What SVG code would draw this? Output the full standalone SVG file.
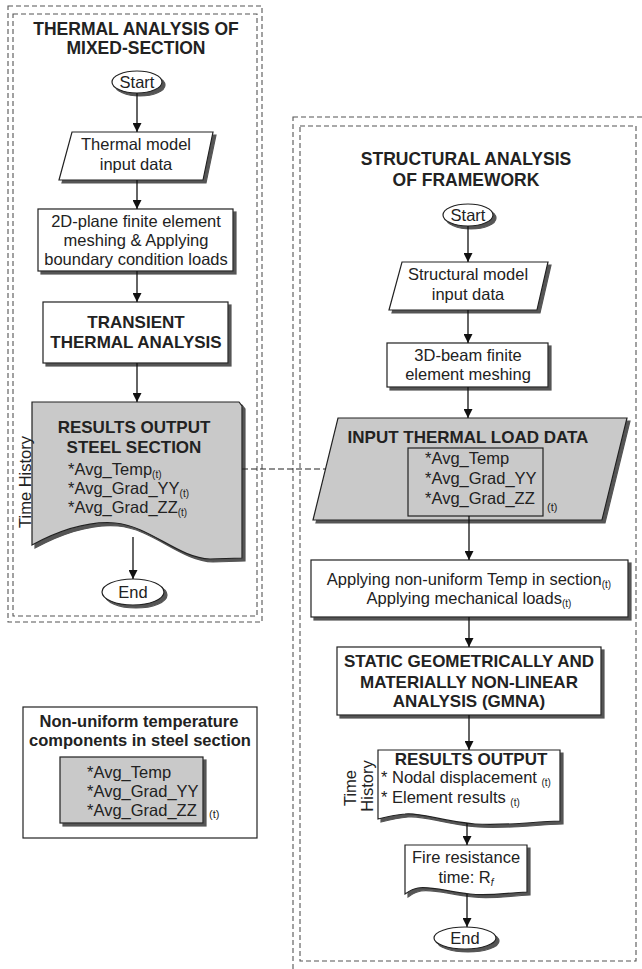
<svg xmlns="http://www.w3.org/2000/svg" width="642" height="969" viewBox="0 0 642 969">
<style>
.frame{fill:none;stroke:#555;stroke-width:1.1;stroke-dasharray:5,3}
.box{fill:#fff;stroke:#222;stroke-width:1.2}
.gbox{fill:#c9c9c9;stroke:#222;stroke-width:1.2}
.t{font-family:"Liberation Sans",Arial,sans-serif;font-size:16.5px;fill:#222}
.b{font-family:"Liberation Sans",Arial,sans-serif;font-size:17px;font-weight:bold;fill:#222}
.lb{font-family:"Liberation Sans",Arial,sans-serif;font-size:16.5px;font-weight:bold;fill:#222}
.ttl{font-family:"Liberation Sans",Arial,sans-serif;font-size:17.5px;font-weight:bold;fill:#222}
.sub{font-size:10px}
.c{stroke:#111;stroke-width:1.3;fill:none}
.d{stroke:#222;stroke-width:1.1;fill:none;stroke-dasharray:6,3}
</style>
<defs>
<marker id="ah" viewBox="0 0 10 10" refX="10" refY="5" markerWidth="9" markerHeight="9" markerUnits="userSpaceOnUse" orient="auto"><path d="M0,0 L10,5 L0,10 z" fill="#111"/></marker>
<filter id="sh" x="-10%" y="-10%" width="130%" height="130%"><feDropShadow dx="3" dy="3" stdDeviation="0.4" flood-color="#555" flood-opacity="1"/></filter>
</defs>

<g id="frames">
<rect class="frame" x="8" y="6" width="254" height="616"/>
<rect class="frame" x="13" y="14" width="244" height="602"/>
<rect class="frame" x="293" y="117" width="360" height="870"/>
<rect class="frame" x="300" y="126" width="336" height="835"/>
</g>

<g id="title-left">
<text class="ttl" x="136" y="35" text-anchor="middle">THERMAL ANALYSIS OF</text>
<text class="ttl" x="136" y="54" text-anchor="middle">MIXED-SECTION</text>
</g>

<g id="start-left">
<ellipse class="box" cx="137" cy="82" rx="25" ry="11" filter="url(#sh)"/>
<text class="t" x="137" y="88" text-anchor="middle">Start</text>
</g>

<g id="thermal-input">
<path class="box" d="M72,132 L213,132 L203,180 L59,180 Z" filter="url(#sh)"/>
<text class="t" x="136" y="150" text-anchor="middle">Thermal model</text>
<text class="t" x="136" y="170" text-anchor="middle">input data</text>
</g>

<g id="meshing-2d">
<rect class="box" x="38" y="209" width="195" height="62" filter="url(#sh)"/>
<text class="t" x="136" y="227" text-anchor="middle">2D-plane finite element</text>
<text class="t" x="136" y="246" text-anchor="middle">meshing &amp; Applying</text>
<text class="t" x="136" y="265" text-anchor="middle">boundary condition loads</text>
</g>

<g id="transient">
<rect class="box" x="43" y="302" width="185" height="61" filter="url(#sh)"/>
<text class="b" x="136" y="328" text-anchor="middle">TRANSIENT</text>
<text class="b" x="136" y="348" text-anchor="middle">THERMAL ANALYSIS</text>
</g>

<g id="results-steel">
<path class="gbox" d="M32,402 L239,402 L242,406 L242,558 L210,559 C178,558 150,526 115,523 C90,521 60,530 32,545 Z" filter="url(#sh)"/>
<text class="b" x="134" y="433" text-anchor="middle">RESULTS OUTPUT</text>
<text class="b" x="134" y="453" text-anchor="middle">STEEL SECTION</text>
<text class="t" x="68" y="475">*Avg_Temp<tspan class="sub" dy="3">(t)</tspan></text>
<text class="t" x="68" y="494">*Avg_Grad_YY<tspan class="sub" dy="3">(t)</tspan></text>
<text class="t" x="68" y="513">*Avg_Grad_ZZ<tspan class="sub" dy="3">(t)</tspan></text>
<text class="t" transform="translate(31,482) rotate(-90)" text-anchor="middle">Time History</text>
</g>

<g id="end-left">
<ellipse class="box" cx="133" cy="592" rx="31" ry="13" filter="url(#sh)"/>
<text class="t" x="133" y="598" text-anchor="middle">End</text>
</g>

<g id="title-right">
<text class="ttl" x="466" y="165" text-anchor="middle">STRUCTURAL ANALYSIS</text>
<text class="ttl" x="466" y="186" text-anchor="middle">OF FRAMEWORK</text>
</g>

<g id="start-right">
<ellipse class="box" cx="468" cy="215" rx="25" ry="11" filter="url(#sh)"/>
<text class="t" x="468" y="221" text-anchor="middle">Start</text>
</g>

<g id="structural-input">
<path class="box" d="M402,262 L548,262 L537,310 L389,310 Z" filter="url(#sh)"/>
<text class="t" x="468" y="280" text-anchor="middle">Structural model</text>
<text class="t" x="468" y="300" text-anchor="middle">input data</text>
</g>

<g id="meshing-3d">
<rect class="box" x="387" y="343" width="161" height="44" filter="url(#sh)"/>
<text class="t" x="468" y="361" text-anchor="middle">3D-beam finite</text>
<text class="t" x="468" y="380" text-anchor="middle">element meshing</text>
</g>

<g id="thermal-load">
<path class="gbox" d="M338,418 L627,418 L602,520 L313,520 Z" filter="url(#sh)"/>
<text class="b" x="468" y="443" text-anchor="middle">INPUT THERMAL LOAD DATA</text>
<rect class="gbox" x="408" y="448" width="135" height="68"/>
<text class="t" x="425" y="464">*Avg_Temp</text>
<text class="t" x="425" y="484">*Avg_Grad_YY</text>
<text class="t" x="425" y="504">*Avg_Grad_ZZ</text>
<text class="t" x="547" y="511" style="font-size:11px">(t)</text>
</g>

<g id="apply-loads">
<rect class="box" x="311" y="560" width="317" height="57" filter="url(#sh)"/>
<text class="t" x="469" y="585" text-anchor="middle">Applying non-uniform Temp in section<tspan class="sub" dy="3">(t)</tspan></text>
<text class="t" x="469" y="604" text-anchor="middle">Applying mechanical loads<tspan class="sub" dy="3">(t)</tspan></text>
</g>

<g id="gmna">
<rect class="box" x="337" y="647" width="264" height="68" filter="url(#sh)"/>
<text class="b" x="469" y="667" text-anchor="middle">STATIC GEOMETRICALLY AND</text>
<text class="b" x="469" y="688" text-anchor="middle">MATERIALLY NON-LINEAR</text>
<text class="b" x="469" y="707" text-anchor="middle">ANALYSIS (GMNA)</text>
</g>

<g id="results-frame">
<path class="box" d="M378,750 L560,750 L560,821 C530,822 505,826 475,824 C440,821 420,812 405,814 C395,815 386,817 378,819 Z" filter="url(#sh)"/>
<text class="b" x="471" y="765" text-anchor="middle">RESULTS OUTPUT</text>
<text class="t" x="381" y="783">* Nodal displacement <tspan class="sub" dy="3">(t)</tspan></text>
<text class="t" x="381" y="803">* Element results <tspan class="sub" dy="3">(t)</tspan></text>
<text class="t" transform="translate(356,788) rotate(-90)" text-anchor="middle">Time</text>
<text class="t" transform="translate(373,786) rotate(-90)" text-anchor="middle">History</text>
</g>

<g id="fire-resistance">
<path class="box" d="M405,845 L527,845 L527,892 C505,893 490,896 470,894 C445,891 430,886 418,888 C412,889 408,892 405,894 Z" filter="url(#sh)"/>
<text class="t" x="466" y="863" text-anchor="middle">Fire resistance</text>
<text class="t" x="466" y="883" text-anchor="middle">time: R<tspan class="sub" dy="3" font-style="italic">f</tspan></text>
</g>

<g id="end-right">
<ellipse class="box" cx="465" cy="938" rx="31" ry="11" filter="url(#sh)"/>
<text class="t" x="465" y="944" text-anchor="middle">End</text>
</g>

<g id="legend">
<rect x="23" y="707" width="234" height="131" fill="#fff" stroke="#222" stroke-width="1.2"/>
<text class="lb" x="139" y="727" text-anchor="middle">Non-uniform temperature</text>
<text class="lb" x="140" y="746" text-anchor="middle">components in steel section</text>
<rect class="gbox" x="60" y="757" width="143" height="66" filter="url(#sh)"/>
<text class="t" x="87" y="778">*Avg_Temp</text>
<text class="t" x="87" y="797">*Avg_Grad_YY</text>
<text class="t" x="87" y="816">*Avg_Grad_ZZ</text>
<text class="t" x="209" y="818" style="font-size:11px">(t)</text>
</g>

<g id="connectors">
<line class="c" x1="137" y1="93" x2="137" y2="132" marker-end="url(#ah)"/>
<line class="c" x1="137" y1="180" x2="137" y2="209" marker-end="url(#ah)"/>
<line class="c" x1="137" y1="271" x2="137" y2="302" marker-end="url(#ah)"/>
<line class="c" x1="137" y1="363" x2="137" y2="402" marker-end="url(#ah)"/>
<line class="c" x1="133" y1="537" x2="133" y2="579" marker-end="url(#ah)"/>
<line class="c" x1="468" y1="226" x2="468" y2="262" marker-end="url(#ah)"/>
<line class="c" x1="468" y1="310" x2="468" y2="343" marker-end="url(#ah)"/>
<line class="c" x1="468" y1="387" x2="468" y2="418" marker-end="url(#ah)"/>
<line class="c" x1="469" y1="516" x2="469" y2="560" marker-end="url(#ah)"/>
<line class="c" x1="469" y1="617" x2="469" y2="647" marker-end="url(#ah)"/>
<line class="c" x1="469" y1="715" x2="469" y2="750" marker-end="url(#ah)"/>
<line class="c" x1="467" y1="823" x2="467" y2="845" marker-end="url(#ah)"/>
<line class="c" x1="467" y1="894" x2="467" y2="927" marker-end="url(#ah)"/>
<line class="d" x1="242" y1="469" x2="325" y2="469"/>
</g>
</svg>
